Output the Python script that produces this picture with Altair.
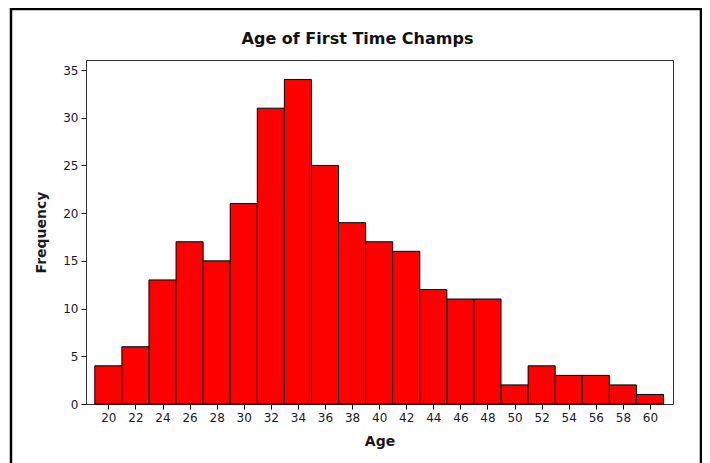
import altair as alt
import pandas as pd

# Data
ages = [20, 22, 24, 26, 28, 30, 32, 34, 36, 38, 40, 42, 44, 46, 48, 50, 52, 54, 56, 58, 60]
freqs = [4, 6, 13, 17, 15, 21, 31, 34, 25, 19, 17, 16, 12, 11, 11, 2, 4, 3, 3, 2, 1]
bin_width = 2
x_ticks = ages
y_ticks = [0, 5, 10, 15, 20, 25, 30, 35]

df = pd.DataFrame({
    "age": ages,
    "freq": freqs,
    "start": [a - bin_width / 2 for a in ages],
    "end": [a + bin_width / 2 for a in ages],
})

FONT = "DejaVu Sans"

x_scale = alt.Scale(domain=[18.35, 61.7], nice=False, zero=False)
y_scale = alt.Scale(domain=[0, 36.05], nice=False)

bars = alt.Chart(df).mark_bar(
    color="#FF0000", stroke="#000000", strokeWidth=1, opacity=1
).encode(
    x=alt.X("start:Q", scale=x_scale,
            axis=alt.Axis(values=x_ticks, title="Age", grid=False, domain=False,
                          tickColor="#000", tickSize=5, labelPadding=3,
                          labelFont=FONT, labelFontSize=12, labelColor="#1a1a2a",
                          titleFont=FONT, titleFontSize=14, titleFontWeight="bold",
                          titleColor="#1a1a1a", titleBaseline="alphabetic", titleY=41)),
    x2="end:Q",
    y=alt.Y("freq:Q", scale=y_scale,
            axis=alt.Axis(values=y_ticks, title="Frequency", grid=False, domain=False,
                          tickColor="#000", tickSize=5, labelPadding=3,
                          labelFont=FONT, labelFontSize=12, labelColor="#1a1a2a",
                          titleFont=FONT, titleFontSize=14, titleFontWeight="bold",
                          titleColor="#1a1a1a", titleBaseline="alphabetic", titleX=-41)),
    y2=alt.value(344),
)

frame = alt.Chart(pd.DataFrame({"k": [0]})).mark_rect(
    fill=None, stroke="#000000", strokeWidth=2.5, clip=False
).encode(
    x=alt.value(-75), x2=alt.value(615), y=alt.value(-51), y2=alt.value(420)
)

chart = alt.layer(bars, frame).properties(
    width=587,
    height=344,
    title=alt.TitleParams(
        "Age of First Time Champs", font=FONT, fontSize=16, fontWeight="bold",
        color="#111", anchor="middle", dx=-22, offset=-39
    ),
    autosize=alt.AutoSizeParams(type="none"),
    padding={"left": 78, "top": 52, "right": 29, "bottom": 59},
).configure(
    background="white",
    view=alt.ViewConfig(stroke="#333", strokeWidth=1),
)

chart.save("out.html", embed_options={"renderer": "svg", "actions": False})
